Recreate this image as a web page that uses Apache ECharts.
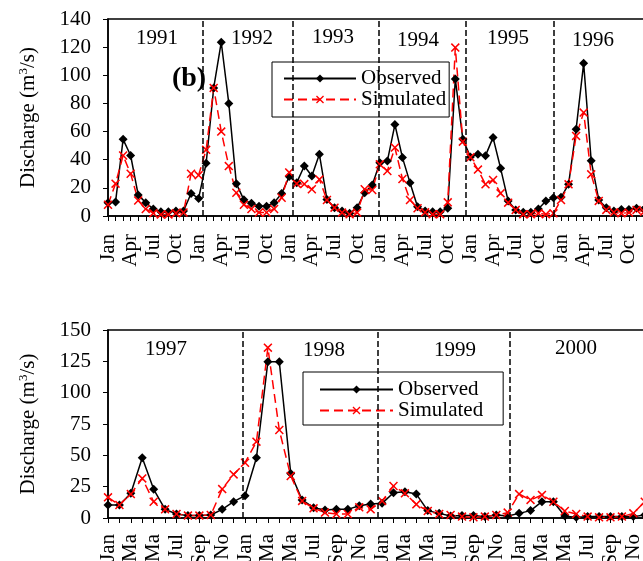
<!DOCTYPE html>
<html>
<head>
<meta charset="utf-8">
<script src="https://cdn.jsdelivr.net/npm/echarts@6/dist/echarts.min.js"></script>
<style>
  html, body { margin: 0; padding: 0; background: #fff; }
  #main { width: 643px; height: 561px; }
</style>
</head>
<body>
<div id="main"></div>
<script>
// monthly discharge, 1991-1996 (top panel)
var obsTop = [
  9.5, 10, 54.5, 43, 15, 9.5, 5, 3, 3, 3.5, 3.5, 16,
  12.5, 37.5, 91, 123.5, 80, 23, 11.5, 9, 7, 7, 9.5, 16,
  28, 23.7, 35.5, 28.4, 43.8, 11.8, 5.9, 3.6, 1.9, 5.9, 16.6, 22,
  37.9, 39, 65, 41.5, 23.7, 6.6, 3.6, 3, 3, 5.5, 97.4, 54.5,
  42, 43.8, 42.9, 55.7, 33.9, 10.7, 4.3, 2.6, 2.6, 5, 10.7, 13,
  13.3, 22.5, 61.6, 108.5, 39.3, 11.4, 5.9, 3.6, 4.7, 4.7, 5.5, 5
]
var simTop = [
  8, 23, 43, 30, 11, 5, 2, 1, 1, 2, 2.5, 30,
  29, 47, 91, 60, 35.5, 16.5, 8, 5, 2.5, 2.5, 5, 13,
  31, 23, 22.7, 19, 26, 11.4, 5.9, 2.4, 1.2, 2.4, 19, 18.5,
  36.7, 32, 48.6, 26.3, 11.4, 5.5, 2.6, 1.2, 1.2, 9.7, 119.7, 52.8,
  41.7, 33, 22.5, 25.6, 16.1, 9.5, 4.3, 1.2, 1.2, 1.9, 1.2, 1.9,
  11.4, 22.5, 56.9, 73.5, 29.6, 10.7, 4.3, 2.6, 1.9, 2.4, 4.3, 3
]
// monthly discharge, 1997-2000 (bottom panel)
var obsBot = [
  10.4, 10.4, 19.7, 48.1, 22.9, 6.9, 3.2, 1.9, 1.9, 2.4, 6.9, 13,
  17.8, 48.1, 124.7, 124.7, 35.6, 14.4, 8.2, 6.4, 6.9, 6.9, 9.8, 11.2,
  11.7, 20.2, 21, 19.1, 5.9, 3.7, 1.6, 1.9, 2, 1.1, 2.4, 1.6,
  3.7, 5.9, 13, 13, 1.6, 0.5, 1.1, 1.1, 1.1, 1.1, 1.1, 2.4
]
var simBot = [
  16.5, 10.4, 19.1, 31.6, 13, 6.9, 3.2, 1.9, 1.9, 2.4, 23.1, 34.8,
  44.1, 60.9, 135.9, 70.2, 33.5, 13.6, 7.7, 4.3, 3.2, 3.2, 8.5, 6.9,
  13.6, 25.5, 19.7, 10.9, 5.6, 3.2, 2.4, 1.1, 0.5, 1.1, 2.4, 4.3,
  19.1, 14.4, 18.4, 13, 5.6, 3.2, 1.1, 0.5, 0.5, 1.1, 3.7, 13
]
var monthsTop = ['Jan', 'Apr', 'Jul', 'Oct']           // every 3rd month
var monthsBot = ['Jan', 'Ma', 'Ma', 'Jul', 'Sep', 'No'] // every 2nd month
var yearsTop = ['1991', '1992', '1993', '1994', '1995', '1996']
var yearsBot = ['1997', '1998', '1999', '2000']
// year separators (in month index, as drawn)
var sepTop = [12.6, 24.5, 35.8, 47.4, 59.0]
var sepBot = [11.8, 23.6, 35.2]

var FONT = '"Liberation Serif", "Times New Roman", serif'
var X_PATH = 'path://M0,1.2L1.2,0L5,3.8L8.8,0L10,1.2L6.2,5L10,8.8L8.8,10L5,6.2L1.2,10L0,8.8L3.8,5Z'

var pairs = function (arr) { return arr.map(function (v, i) { return [i, v] }) }

var yearPosTop = [[157, 38], [252, 38], [333, 37], [418, 40], [508, 38], [593, 40]]
var yearPosBot = [[166, 349], [324, 350], [455, 350], [576, 348]]

var graphics = []
yearsTop.forEach(function (y, i) {
  graphics.push({ type: 'text', x: yearPosTop[i][0], y: yearPosTop[i][1],
    style: { text: y, fontFamily: FONT, fontSize: 21, fill: '#000', align: 'center', verticalAlign: 'middle' } })
})
yearsBot.forEach(function (y, i) {
  graphics.push({ type: 'text', x: yearPosBot[i][0], y: yearPosBot[i][1],
    style: { text: y, fontFamily: FONT, fontSize: 21, fill: '#000', align: 'center', verticalAlign: 'middle' } })
})
graphics.push({ type: 'text', x: 189, y: 79,
  style: { text: '(b)', fontFamily: FONT, fontSize: 28, fontWeight: 'bold', fill: '#000', align: 'center', verticalAlign: 'middle' } })

function xAxisOf(gridIndex, max, names, step, margin) {
  return {
    type: 'value', gridIndex: gridIndex, min: 0, max: max, interval: 1,
    axisLine: { lineStyle: { color: '#000', width: 1.5 } },
    axisTick: { show: true, length: 5, lineStyle: { color: '#000', width: 1 } },
    splitLine: { show: false },
    axisLabel: {
      rotate: 90, margin: margin, color: '#000', fontFamily: FONT, fontSize: 21,
      showMaxLabel: false,
      formatter: function (v) {
        if (v % step !== 0) return ''
        return names[(v % 12) / step]
      }
    }
  }
}
function yAxisOf(gridIndex, max, interval) {
  return {
    type: 'value', gridIndex: gridIndex, min: 0, max: max, interval: interval,
    name: 'Discharge (m{sup|3}/s)', nameLocation: 'middle', nameRotate: 90, nameGap: 68,
    nameTextStyle: {
      color: '#000', fontFamily: FONT, fontSize: 21,
      rich: { sup: { fontFamily: FONT, fontSize: 13, color: '#000', padding: [0, 0, 10, 0] } }
    },
    axisLine: { show: true, lineStyle: { color: '#000', width: 1.5 } },
    axisTick: { show: true, length: 5, lineStyle: { color: '#000', width: 1 } },
    splitLine: { show: false },
    axisLabel: { margin: 17, color: '#000', fontFamily: FONT, fontSize: 21 }
  }
}
function obsSeries(idx, arr, seps) {
  return {
    name: 'Observed', type: 'line', xAxisIndex: idx, yAxisIndex: idx,
    data: pairs(arr), symbol: 'diamond', symbolSize: 9,
    itemStyle: { color: '#000' }, lineStyle: { color: '#000', width: 1.5 },
    animation: false,
    markLine: {
      silent: true, symbol: 'none', label: { show: false },
      lineStyle: { color: '#000', width: 1.5, type: [6, 3] },
      data: seps.map(function (x) { return { xAxis: x } })
    }
  }
}
function simSeries(idx, arr) {
  return {
    name: 'Simulated', type: 'line', xAxisIndex: idx, yAxisIndex: idx,
    data: pairs(arr), symbol: X_PATH, symbolSize: 9,
    itemStyle: { color: '#f00' }, lineStyle: { color: '#f00', width: 1.5, type: [9, 5] },
    animation: false
  }
}
function legendOf(left, top, pad, iw) {
  return {
    orient: 'vertical', left: left, top: top, padding: pad,
    borderColor: '#000', borderWidth: 1, itemGap: 0,
    itemWidth: iw, itemHeight: 10,
    data: ['Observed', 'Simulated'],
    textStyle: { color: '#000', fontFamily: FONT, fontSize: 21, lineHeight: 18, padding: [0, 0, 0, 0] }
  }
}

var myChart = echarts.init(document.getElementById('main'))
myChart.setOption({
  backgroundColor: '#fff',
  animation: false,
  grid: [
    { left: 108, top: 19, width: 72 * 7.55, height: 197, show: true, borderColor: '#000', borderWidth: 1.5,
      outerBoundsMode: 'none', containLabel: false },
    { left: 108, top: 330, width: 48 * 11.42, height: 188, show: true, borderColor: '#000', borderWidth: 1.5,
      outerBoundsMode: 'none', containLabel: false }
  ],
  xAxis: [xAxisOf(0, 72, monthsTop, 3, 18), xAxisOf(1, 48, monthsBot, 2, 16)],
  yAxis: [yAxisOf(0, 140, 20), yAxisOf(1, 150, 25)],
  legend: [legendOf(272, 62, [6, 3, 7, 11], 72), legendOf(303, 372, [7, 20, 4, 16], 73)],
  series: [
    obsSeries(0, obsTop, sepTop), simSeries(0, simTop),
    obsSeries(1, obsBot, sepBot), simSeries(1, simBot)
  ],
  graphic: graphics
})
</script>
</body>
</html>
